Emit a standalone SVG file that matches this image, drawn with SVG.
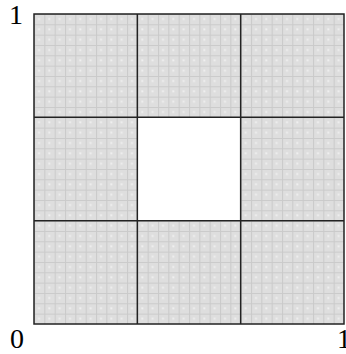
<svg xmlns="http://www.w3.org/2000/svg" width="346" height="354" viewBox="0 0 346 354">
<style>
.lbl{font-family:"Liberation Serif","Times New Roman",serif;font-size:28px;fill:#000}
.grid{stroke:#222;stroke-width:1.5;fill:none}
</style>
<defs>
<pattern id="hatch" patternUnits="userSpaceOnUse" x="34" y="14" width="10.333" height="10.333">
<rect width="10.333" height="10.333" fill="#dedede"/>
<path d="M0,0.5H10.333M0.5,0V10.333" stroke="#cacaca" stroke-width="1"/>
<rect x="4" y="4" width="2" height="2" fill="#efefef"/>
</pattern>
</defs>
<g id="square">
<rect x="34" y="14" width="310" height="310" fill="url(#hatch)"/>
<rect x="137.33" y="117.33" width="103.33" height="103.33" fill="#fff"/>
</g>
<g id="lines">
<rect class="grid" x="34" y="14" width="310" height="310"/>
<path class="grid" d="M137.33,14V324M240.67,14V324M34,117.33H344M34,220.67H344"/>
</g>
<g id="labels">
<text class="lbl" x="9" y="24">1</text>
<text class="lbl" x="10" y="348">0</text>
<text class="lbl" x="337" y="348">1</text>
</g>
</svg>
